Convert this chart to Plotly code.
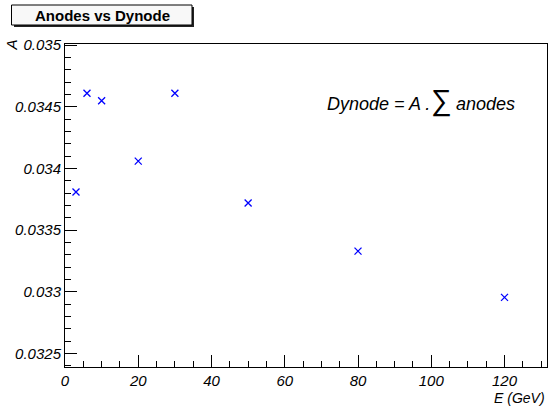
import plotly.graph_objects as go

energy = [3, 6, 10, 20, 30, 50, 80, 120]
coef_a = [0.03381, 0.03461, 0.03455, 0.03406, 0.03461, 0.03372, 0.03333, 0.032955]

W, H = 548, 410
L, R, T, B = 65, 1, 44, 43
pw, ph = W - L - R, H - T - B

def px(x):
    return (x - L) / pw

def py(y):
    return (H - B - y) / ph

font = dict(family="Liberation Sans, Arial, sans-serif", size=15, color="black", style="italic")

fig = go.Figure(go.Scatter(
    x=energy, y=coef_a, mode="markers",
    marker=dict(symbol="x-thin", size=7, line=dict(color="#0000ff", width=1.3), color="#0000ff"),
))

axis_common = dict(
    showgrid=False, zeroline=False, showline=True, linecolor="black", linewidth=1,
    mirror=True, ticks="inside", tickcolor="black", tickfont=font, automargin=False,
)

fig.update_xaxes(range=[0, 131.6], tick0=0, dtick=20, ticklen=12,
                 minor=dict(ticks="inside", dtick=5, ticklen=6, tickcolor="black"),
                 **axis_common)
fig.update_yaxes(range=[0.03239, 0.03501], tick0=0.0325, dtick=0.0005, ticklen=12,
                 tickformat="~r",
                 minor=dict(ticks="inside", dtick=0.0001, ticklen=6, tickcolor="black"),
                 **axis_common)

fig.update_layout(
    width=W, height=H, margin=dict(l=L, r=R, t=T, b=B, autoexpand=False),
    paper_bgcolor="white", plot_bgcolor="white", showlegend=False,
    shapes=[
        dict(type="rect", xref="paper", yref="paper", x0=px(14), x1=px(194), y0=py(27), y1=py(7),
             fillcolor="#222222", line=dict(width=0), layer="above"),
        dict(type="rect", xref="paper", yref="paper", x0=px(11.5), x1=px(192), y0=py(25), y1=py(5),
             fillcolor="#f8f8f8", line=dict(color="black", width=1), layer="above"),
    ],
    annotations=[
        dict(text="<b>Anodes vs Dynode</b>", xref="paper", yref="paper", x=px(102), y=py(15),
             xanchor="center", yanchor="middle", showarrow=False,
             font=dict(family="Liberation Sans, Arial, sans-serif", size=15, color="black")),
        dict(text="Dynode = A .<span style='font-size:29px'>∑</span> anodes", xref="paper", yref="paper",
             x=px(421), y=py(100), xanchor="center", yanchor="middle", showarrow=False,
             font=dict(family="Liberation Sans, Arial, sans-serif", size=18, color="black", style="italic")),
        dict(text="A", xref="paper", yref="paper", x=px(11), y=py(38), xanchor="center", yanchor="top",
             textangle=-90, showarrow=False, font=font),
        dict(text="E (GeV)", xref="paper", yref="paper", x=px(547), y=py(398), xanchor="right", yanchor="middle",
             showarrow=False, font=dict(font, size=14)),
    ],
)

fig.write_html("out.html", config={"displayModeBar": False},
               post_script="document.body.style.margin='0px';")
